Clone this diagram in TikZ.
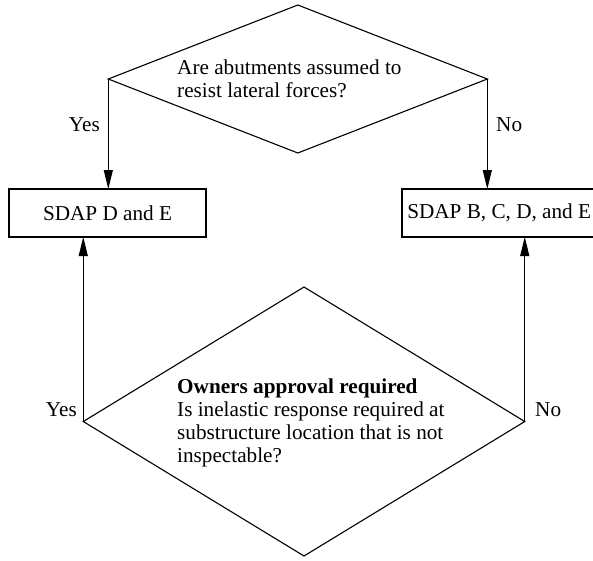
\documentclass[tikz,border=0pt]{standalone}
\usepackage{fontspec}
\setmainfont{Liberation Serif}
\usetikzlibrary{shapes.geometric,arrows.meta}
\begin{document}
\begin{tikzpicture}[x=1pt,y=-1pt,
  every node/.style={font=\fontsize{21.2}{23.3}\selectfont},
  dec/.style={diamond, draw, line width=1.1pt, inner sep=0pt, outer sep=0pt},
  sbox/.style={rectangle, draw, line width=1.1pt, minimum height=48pt, inner ysep=0pt, outer sep=0pt},
  arr/.style={-{Triangle[length=19pt,width=9pt]}, line width=1.1pt},
  lbl/.style={inner sep=0pt}]
\useasboundingbox (0,0) rectangle (593,560);

% decisions
\node[dec, minimum width=379pt, minimum height=148pt] (q1) at (297.8,79) {};
\node[anchor=base west, inner sep=0pt] (t1) at (177,74)
  {\begin{tabular}[t]{@{}l@{}}Are abutments assumed to\\resist lateral forces?\end{tabular}};

\node[dec, minimum width=441.5pt, minimum height=269pt] (q2) at (304,421.5) {};
\node[anchor=base west, inner sep=0pt] (t2) at (177,393)
  {\begin{tabular}[t]{@{}l@{}}\textbf{Owners approval required}\\Is inelastic response required at\\substructure location that is not\\inspectable?\end{tabular}};

% outcome boxes
\node[sbox, minimum width=197pt] (b1) at (107.5,213) {SDAP D and E};
\node[sbox, inner xsep=5.3pt, anchor=west] (b2) at (402,213) {SDAP B, C, D, and E};

% connectors
\draw[arr] (q1.west) -- (q1.west |- b1.north);
\draw[arr] (q1.east) -- (q1.east |- b2.north);
\draw[arr] (q2.west) -- (q2.west |- b1.south);
\draw[arr] (q2.east) -- (q2.east |- b2.south);

% labels
\node[lbl, anchor=base east] (y1) at (100,131) {Yes};
\node[lbl, anchor=base west] (n1) at (496,131) {No};
\node[lbl, anchor=base east] (y2) at (77,416) {Yes};
\node[lbl, anchor=base west] (n2) at (535,416) {No};
\end{tikzpicture}
\end{document}
